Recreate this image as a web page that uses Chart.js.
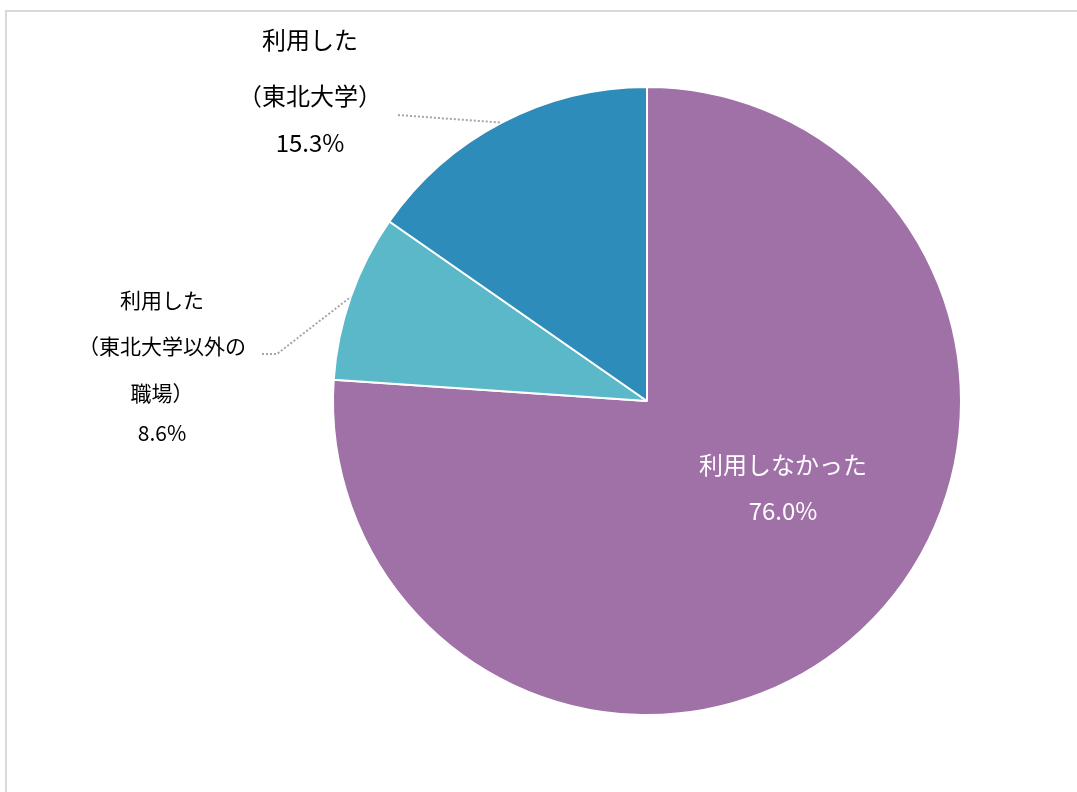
<!DOCTYPE html>
<html>
<head>
<meta charset="utf-8">
<script src="https://cdn.jsdelivr.net/npm/chart.js@4.4.1/dist/chart.umd.min.js"></script>
<style>
  html, body { margin: 0; padding: 0; background: #fff; overflow: hidden; }
  .frame {
    position: absolute; left: 5px; top: 10px; width: 1200px; height: 900px;
    border: 2px solid #d9d9d9; box-sizing: border-box;
  }
  .chart__wrapper { position: absolute; left: 0; top: 0; width: 1077px; height: 792px; }
</style>
</head>
<body>
<div class="frame"></div>
<div class="chart__wrapper"><canvas id="usage-pie-chart"></canvas></div>
<script>
  const categories = ["利用しなかった", "利用した（東北大学以外の職場）", "利用した（東北大学）"];
  const values = [76.0, 8.6, 15.3];
  const colors = ["#9f71a7", "#5bb8c8", "#2e8cba"];

  // label lines per slice, drawn by the plugin below
  const labelLines = [
    ["利用しなかった", "76.0%"],
    ["利用した", "（東北大学以外の", "職場）", "8.6%"],
    ["利用した", "（東北大学）", "15.3%"],
  ];

  const FONT = '"Noto Sans CJK JP", "Noto Sans", sans-serif';

  // text layout for each slice label (inside / outside with leader line)
  const labelLayout = [
    { x: 783, ys: [465, 511], size: 24, color: "#ffffff" },
    { x: 162, ys: [300, 346, 393, 433], size: 21, color: "#000000", leader: [[262, 354], [277, 354]] },
    { x: 310, ys: [40, 96, 143], size: 24, color: "#000000", leader: [[398, 115]] },
  ];

  const labelPlugin = {
    id: "sliceLabels",
    afterDatasetsDraw(chart) {
      const ctx = chart.ctx;
      const arcs = chart.getDatasetMeta(0).data;
      arcs.forEach((arc, i) => {
        const lay = labelLayout[i];
        if (lay.leader) {
          const p = arc.getProps(["x", "y", "startAngle", "endAngle", "outerRadius"], true);
          const mid = (p.startAngle + p.endAngle) / 2;
          const ex = p.x + Math.cos(mid) * p.outerRadius;
          const ey = p.y + Math.sin(mid) * p.outerRadius;
          ctx.save();
          ctx.strokeStyle = "#a6a6a6";
          ctx.lineWidth = 2;
          ctx.setLineDash([2, 2]);
          ctx.beginPath();
          ctx.moveTo(lay.leader[0][0], lay.leader[0][1]);
          lay.leader.slice(1).forEach((pt) => ctx.lineTo(pt[0], pt[1]));
          ctx.lineTo(ex, ey);
          ctx.stroke();
          ctx.restore();
        }
        ctx.save();
        ctx.fillStyle = lay.color;
        ctx.font = lay.size + "px " + FONT;
        ctx.textAlign = "center";
        ctx.textBaseline = "middle";
        labelLines[i].forEach((line, j) => ctx.fillText(line, lay.x, lay.ys[j]));
        ctx.restore();
      });
    },
  };

  const pieChartElement = document.getElementById("usage-pie-chart").getContext("2d");

  new Chart(pieChartElement, {
    type: "pie",
    data: {
      labels: categories,
      datasets: [
        {
          data: values,
          backgroundColor: colors,
          borderColor: "#ffffff",
          borderWidth: 2,
        },
      ],
    },
    options: {
      responsive: true,
      maintainAspectRatio: false,
      animation: false,
      layout: {
        padding: { left: 332, right: 115, top: 86, bottom: 76 },
      },
      plugins: {
        legend: { display: false },
        title: { display: false },
        tooltip: { enabled: false },
      },
    },
    plugins: [labelPlugin],
  });
</script>
</body>
</html>
